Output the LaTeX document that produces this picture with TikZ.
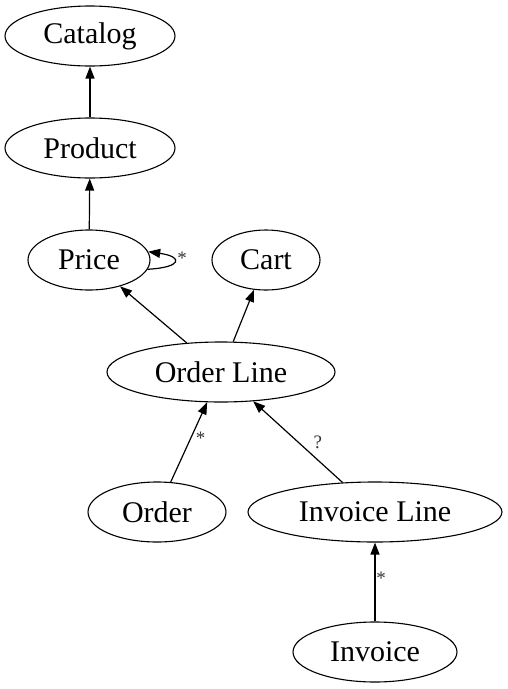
\documentclass[tikz,border=0pt]{standalone}
\usepackage{fontspec}
\setmainfont{Liberation Serif}
\usetikzlibrary{arrows.meta,shapes.geometric}

\begin{document}
\begin{tikzpicture}[x=1pt,y=-1pt,font=\fontsize{30}{36}\selectfont]
  %----- styles
  \tikzset{
    ent/.style  ={draw,ellipse,line width=1.1pt,inner sep=0pt,minimum height=60pt},
    arrow/.style={-{Triangle[length=12pt,width=9pt]},line width=1.2pt},
    mult/.style ={font=\fontsize{19}{22}\selectfont,inner sep=0pt,text=black!80}
  }
  \useasboundingbox (0,0) rectangle (507,689);

  %----- nodes
  % left column: catalog, product, price
  \node[ent,minimum width=170pt] (catalog) at (90,36)  {Catalog};
  \node[ent,minimum width=170pt] (product) at (90,148) {Product};
  \node[ent,minimum width=122pt] (price)   at (89,260) {Price};
  \node[ent,minimum width=108pt] (cart)    at (266,260) {Cart};

  % middle: order line
  \node[ent,minimum width=228pt] (oline)   at (221,372) {Order Line};

  % bottom rows: order, invoice line, invoice
  \node[ent,minimum width=138pt] (order)   at (157,512) {Order};
  \node[ent,minimum width=254pt] (iline)   at (375,512) {Invoice Line};
  \node[ent,minimum width=164pt] (invoice) at (375,652) {Invoice};

  %----- connections
  \draw[arrow] (product) -- (catalog);
  \draw[arrow] (price) -- (product);
  \draw[arrow] (oline) -- (price);
  \draw[arrow] (oline) -- (cart);
  \draw[arrow] (order) -- node[mult,pos=0.55,xshift=10pt] {*} (oline);
  \draw[arrow] (iline) -- node[mult,pos=0.5,xshift=20pt] {?} (oline);
  \draw[arrow] (invoice) -- node[mult,pos=0.55,xshift=6pt] {*} (iline);

  %----- self loop on price
  \draw[arrow] (price.-9) .. controls +(35,-2) and +(35,5) .. (price.8);
  \node[mult] (loopstar) at (182,258) {*};
\end{tikzpicture}
\end{document}
